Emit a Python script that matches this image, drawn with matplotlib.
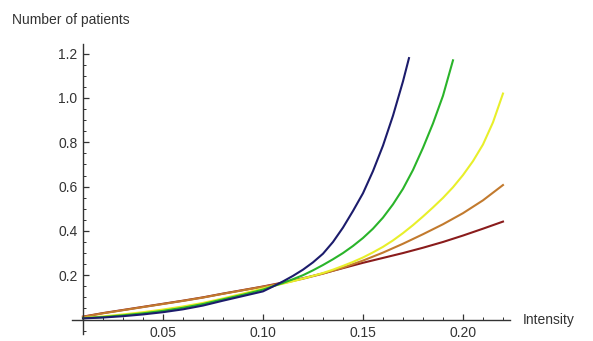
import matplotlib
matplotlib.use('Agg')
import matplotlib.pyplot as plt
from matplotlib.ticker import MultipleLocator, FixedLocator, FixedFormatter

plt.rcParams['font.family'] = ['Liberation Sans', 'DejaVu Sans']

# values
blue_x = [0.01, 0.02, 0.03, 0.04, 0.05, 0.06, 0.07, 0.08, 0.09, 0.10, 0.105, 0.11, 0.115, 0.12,
          0.125, 0.13, 0.135, 0.14, 0.145, 0.15, 0.155, 0.16, 0.165, 0.17, 0.173]
blue_y = [0.005, 0.009, 0.015, 0.023, 0.033, 0.046, 0.063, 0.085, 0.106, 0.127, 0.149, 0.172, 0.197, 0.225,
          0.258, 0.297, 0.35, 0.415, 0.49, 0.57, 0.67, 0.785, 0.92, 1.075, 1.18]

green_x = [0.01, 0.02, 0.03, 0.04, 0.05, 0.06, 0.07, 0.08, 0.09, 0.10, 0.105, 0.11, 0.115, 0.12,
           0.125, 0.13, 0.135, 0.14, 0.145, 0.15, 0.155, 0.16, 0.165, 0.17, 0.175, 0.18, 0.185, 0.19, 0.195]
green_y = [0.006, 0.011, 0.019, 0.028, 0.039, 0.053, 0.070, 0.091, 0.112, 0.135, 0.150, 0.165, 0.182, 0.200,
           0.222, 0.246, 0.272, 0.300, 0.332, 0.368, 0.41, 0.46, 0.52, 0.59, 0.675, 0.775, 0.885, 1.01, 1.17]

yellow_x = [0.01, 0.02, 0.03, 0.04, 0.05, 0.06, 0.07, 0.08, 0.09, 0.10, 0.105, 0.11, 0.115, 0.12,
            0.125, 0.13, 0.135, 0.14, 0.145, 0.15, 0.155, 0.16, 0.165, 0.17, 0.175, 0.18, 0.185,
            0.19, 0.195, 0.20, 0.205, 0.21, 0.215, 0.22]
yellow_y = [0.007, 0.014, 0.023, 0.033, 0.045, 0.059, 0.075, 0.095, 0.117, 0.140, 0.151, 0.162, 0.173, 0.185,
            0.197, 0.210, 0.225, 0.242, 0.260, 0.280, 0.303, 0.328, 0.357, 0.390, 0.426, 0.465, 0.506,
            0.549, 0.597, 0.652, 0.715, 0.790, 0.890, 1.020]

orange_x = [0.01, 0.02, 0.03, 0.04, 0.05, 0.06, 0.07, 0.08, 0.09, 0.10, 0.11,
            0.12, 0.13, 0.14, 0.15, 0.16, 0.17, 0.18, 0.19, 0.20, 0.21, 0.22]
orange_y = [0.012, 0.028, 0.042, 0.056, 0.070, 0.084, 0.099, 0.116, 0.132, 0.148, 0.164,
            0.184, 0.207, 0.234, 0.266, 0.302, 0.342, 0.385, 0.430, 0.480, 0.538, 0.607]

red_x = [0.01, 0.02, 0.03, 0.04, 0.05, 0.06, 0.07, 0.08, 0.09, 0.10, 0.11,
         0.12, 0.13, 0.14, 0.15, 0.16, 0.17, 0.18, 0.19, 0.20, 0.21, 0.22]
red_y = [0.013, 0.029, 0.043, 0.057, 0.071, 0.085, 0.100, 0.117, 0.133, 0.149, 0.167,
         0.186, 0.208, 0.232, 0.256, 0.278, 0.300, 0.324, 0.350, 0.379, 0.410, 0.442]

x_ticks = [0.05, 0.10, 0.15, 0.20]
x_labels = ['0.05', '0.10', '0.15', '0.20']
y_ticks = [0.2, 0.4, 0.6, 0.8, 1.0, 1.2]
y_labels = ['0.2', '0.4', '0.6', '0.8', '1.0', '1.2']

fig = plt.figure(figsize=(5.93, 3.41), dpi=100)
ax = fig.add_axes([0.1214, 0.0208, 0.7386, 0.851])

ax.plot(red_x, red_y, color='#8a1c1c', lw=1.5)
ax.plot(orange_x, orange_y, color='#c27a2e', lw=1.5)
ax.plot(yellow_x, yellow_y, color='#e8ef2a', lw=1.5)
ax.plot(green_x, green_y, color='#2ab42a', lw=1.5)
ax.plot(blue_x, blue_y, color='#1c1c6c', lw=1.5)

ax.set_xlim(0.0045, 0.2235)
ax.set_ylim(-0.065, 1.245)

for s in ['top', 'right']:
    ax.spines[s].set_visible(False)
ax.spines['left'].set_position(('data', 0.01))
ax.spines['bottom'].set_position(('data', 0))
for s in ['left', 'bottom']:
    ax.spines[s].set_color('#333333')
    ax.spines[s].set_linewidth(1.0)

ax.xaxis.set_major_locator(FixedLocator(x_ticks))
ax.xaxis.set_major_formatter(FixedFormatter(x_labels))
ax.xaxis.set_minor_locator(MultipleLocator(0.01))
ax.yaxis.set_major_locator(FixedLocator(y_ticks))
ax.yaxis.set_major_formatter(FixedFormatter(y_labels))
ax.yaxis.set_minor_locator(MultipleLocator(0.05))

ax.tick_params(axis='both', which='major', direction='in', length=4.5, width=0.9,
               color='#333333', labelsize=10, labelcolor='#333333')
ax.tick_params(axis='both', which='minor', direction='in', length=2.5, width=0.7, color='#333333')
ax.tick_params(axis='x', which='major', pad=5)
ax.tick_params(axis='y', which='major', pad=4)

fig.text(12 / 593, 1 - 20 / 341, 'Number of patients', fontsize=10, color='#333333',
         ha='left', va='center')
fig.text(523 / 593, 1 - 320 / 341, 'Intensity', fontsize=10, color='#333333',
         ha='left', va='center')

fig.savefig('out.png', dpi=100)
